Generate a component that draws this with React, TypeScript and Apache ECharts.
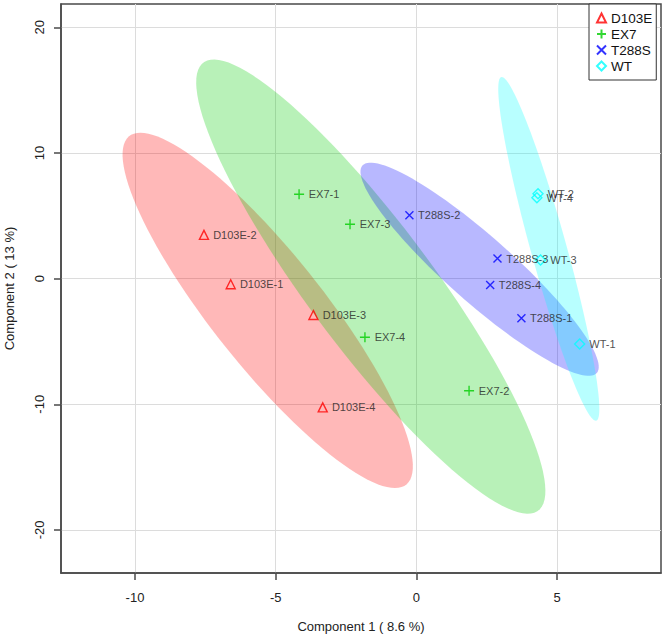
import React, { useEffect, useRef } from "react";
import * as echarts from "echarts";

// ---- data ----
const groupNames = ["D103E", "EX7", "T288S", "WT"];
const groupColors = ["#FF0000", "#00CD00", "#0000FF", "#00FFFF"];

const d103eNames = ["D103E-1", "D103E-2", "D103E-3", "D103E-4"];
const d103eX = [-6.6, -7.55, -3.66, -3.33];
const d103eY = [-0.45, 3.48, -2.89, -10.25];

const ex7Names = ["EX7-1", "EX7-2", "EX7-3", "EX7-4"];
const ex7X = [-4.17, 1.87, -2.36, -1.83];
const ex7Y = [6.72, -8.92, 4.33, -4.67];

const t288sNames = ["T288S-1", "T288S-2", "T288S-3", "T288S-4"];
const t288sX = [3.73, -0.25, 2.88, 2.62];
const t288sY = [-3.16, 5.05, 1.6, -0.5];

const wtNames = ["WT-1", "WT-2", "WT-3", "WT-4"];
const wtX = [5.8, 4.32, 4.41, 4.28];
const wtY = [-5.2, 6.75, 1.49, 6.43];

const xTicks = [-10, -5, 0, 5];
const yTicks = [-20, -10, 0, 10, 20];
const xRange = [-12.63, 8.69];
const yRange = [-23.43, 21.86];
const ellipseLevel = 0.95;

const xTitle = "Component 1 ( 8.6 %)";
const yTitle = "Component 2 ( 13 %)";

const groupsData = [
  { names: d103eNames, xs: d103eX, ys: d103eY },
  { names: ex7Names, xs: ex7X, ys: ex7Y },
  { names: t288sNames, xs: t288sX, ys: t288sY },
  { names: wtNames, xs: wtX, ys: wtY },
];

const groupSymbols = [
  "triangle",
  "path://M5,0L5,10M0,5L10,5",
  "path://M0,0L10,10M10,0L0,10",
  "diamond",
];
const groupSymbolSizes = [9, 10, 8, 10];

const FONT = "'Liberation Sans', Arial, sans-serif";

// confidence ellipse (normal, chi-square with 2 df) computed from the group's points
function ellipsePoints(xs: number[], ys: number[], level: number, n = 120): number[][] {
  const m = xs.length;
  const mx = xs.reduce((a, b) => a + b, 0) / m;
  const my = ys.reduce((a, b) => a + b, 0) / m;
  let sxx = 0, syy = 0, sxy = 0;
  for (let i = 0; i < m; i++) {
    const dx = xs[i] - mx, dy = ys[i] - my;
    sxx += dx * dx; syy += dy * dy; sxy += dx * dy;
  }
  sxx /= m - 1; syy /= m - 1; sxy /= m - 1;
  const tr = sxx + syy, det = sxx * syy - sxy * sxy;
  const disc = Math.sqrt(Math.max(0, (tr * tr) / 4 - det));
  const l1 = tr / 2 + disc, l2 = Math.max(0, tr / 2 - disc);
  let v1x = sxy, v1y = l1 - sxx;
  let len = Math.hypot(v1x, v1y);
  if (len < 1e-12) { v1x = 1; v1y = 0; len = 1; }
  v1x /= len; v1y /= len;
  const v2x = -v1y, v2y = v1x;
  const r = Math.sqrt(-2 * Math.log(1 - level));
  const a = r * Math.sqrt(l1), b = r * Math.sqrt(l2);
  const pts: number[][] = [];
  for (let i = 0; i < n; i++) {
    const t = (2 * Math.PI * i) / n;
    const c = Math.cos(t), s = Math.sin(t);
    pts.push([mx + a * c * v1x + b * s * v2x, my + a * c * v1y + b * s * v2y]);
  }
  return pts;
}

function hexToRgba(hex: string, alpha: number) {
  const v = parseInt(hex.slice(1), 16);
  return `rgba(${(v >> 16) & 255},${(v >> 8) & 255},${v & 255},${alpha})`;
}

export default function App() {
  const ref = useRef<HTMLDivElement>(null);
  useEffect(() => {
    if (!ref.current) return;
    const chart = echarts.init(ref.current, null, { renderer: "svg" });

    const ellipseSeries = groupsData.map((g, gi) => {
      const pts = ellipsePoints(g.xs, g.ys, ellipseLevel);
      return {
        type: "custom",
        name: groupNames[gi] + " ellipse",
        silent: true,
        z: 1,
        data: [[pts[0][0], pts[0][1]]],
        renderItem: (params: any, api: any) => ({
          type: "polygon",
          shape: { points: pts.map((p) => api.coord(p)) },
          style: { fill: hexToRgba(groupColors[gi], 0.28), stroke: "none" },
        }),
      };
    });

    const pointSeries = groupsData.map((g, gi) => ({
      type: "scatter",
      name: groupNames[gi],
      z: 3,
      symbol: groupSymbols[gi],
      symbolSize: groupSymbolSizes[gi],
      itemStyle: {
        color: "rgba(0,0,0,0)",
        borderColor: groupColors[gi],
        borderWidth: 1.4,
      },
      label: {
        show: true,
        position: "right",
        distance: 4,
        formatter: "{b}",
        color: "#222",
        fontSize: 11,
        fontFamily: FONT,
      },
      emphasis: { disabled: true },
      data: g.names.map((n, i) => ({ name: n, value: [g.xs[i], g.ys[i]] })),
    }));

    chart.setOption({
      animation: false,
      backgroundColor: "#ffffff",
      textStyle: { fontFamily: FONT },
      grid: {
        left: 61,
        right: 2,
        top: 4,
        bottom: 64,
        containLabel: false,
        outerBoundsMode: "none",
        show: true,
        borderColor: "#4a4a4a",
        borderWidth: 1.5,
        backgroundColor: "transparent",
      },
      legend: {
        data: groupNames,
        orient: "vertical",
        left: 589,
        top: 4,
        padding: [6, 4, 6, 7],
        itemGap: 0,
        itemWidth: 9,
        itemHeight: 9,
        borderColor: "#333",
        borderWidth: 1,
        backgroundColor: "#fff",
        selectedMode: false,
        textStyle: { fontSize: 13.5, color: "#111", lineHeight: 16, fontFamily: FONT },
      },
      xAxis: {
        type: "value",
        min: xRange[0],
        max: xRange[1],
        name: xTitle,
        nameLocation: "middle",
        nameGap: 47,
        nameTextStyle: { fontSize: 13, color: "#222", fontFamily: FONT },
        axisLine: { show: true, onZero: false, lineStyle: { color: "#4a4a4a", width: 1.5 } },
        axisTick: { show: true, inside: false, length: 7, customValues: xTicks, lineStyle: { color: "#4a4a4a", width: 1.5 } },
        axisLabel: { customValues: xTicks, margin: 18, fontSize: 13, color: "#222", fontFamily: FONT },
        splitLine: { show: true, lineStyle: { color: "#dcdcdc", width: 1 } },
      },
      yAxis: {
        type: "value",
        min: yRange[0],
        max: yRange[1],
        name: yTitle,
        nameLocation: "middle",
        nameGap: 45,
        nameRotate: 90,
        nameTextStyle: { fontSize: 13, color: "#222", fontFamily: FONT },
        axisLine: { show: true, onZero: false, lineStyle: { color: "#4a4a4a", width: 1.5 } },
        axisTick: { show: true, inside: false, length: 7, customValues: yTicks, lineStyle: { color: "#4a4a4a", width: 1.5 } },
        axisLabel: { customValues: yTicks, margin: 15, rotate: 90, fontSize: 13, color: "#222", fontFamily: FONT },
        splitLine: { show: true, lineStyle: { color: "#dcdcdc", width: 1 } },
      },
      series: [...ellipseSeries, ...pointSeries],
    });
    return () => chart.dispose();
  }, []);
  return (
    <div
      ref={ref}
      style={{ position: "fixed", left: 0, top: 0, width: 663, height: 637, background: "#fff" }}
    />
  );
}
